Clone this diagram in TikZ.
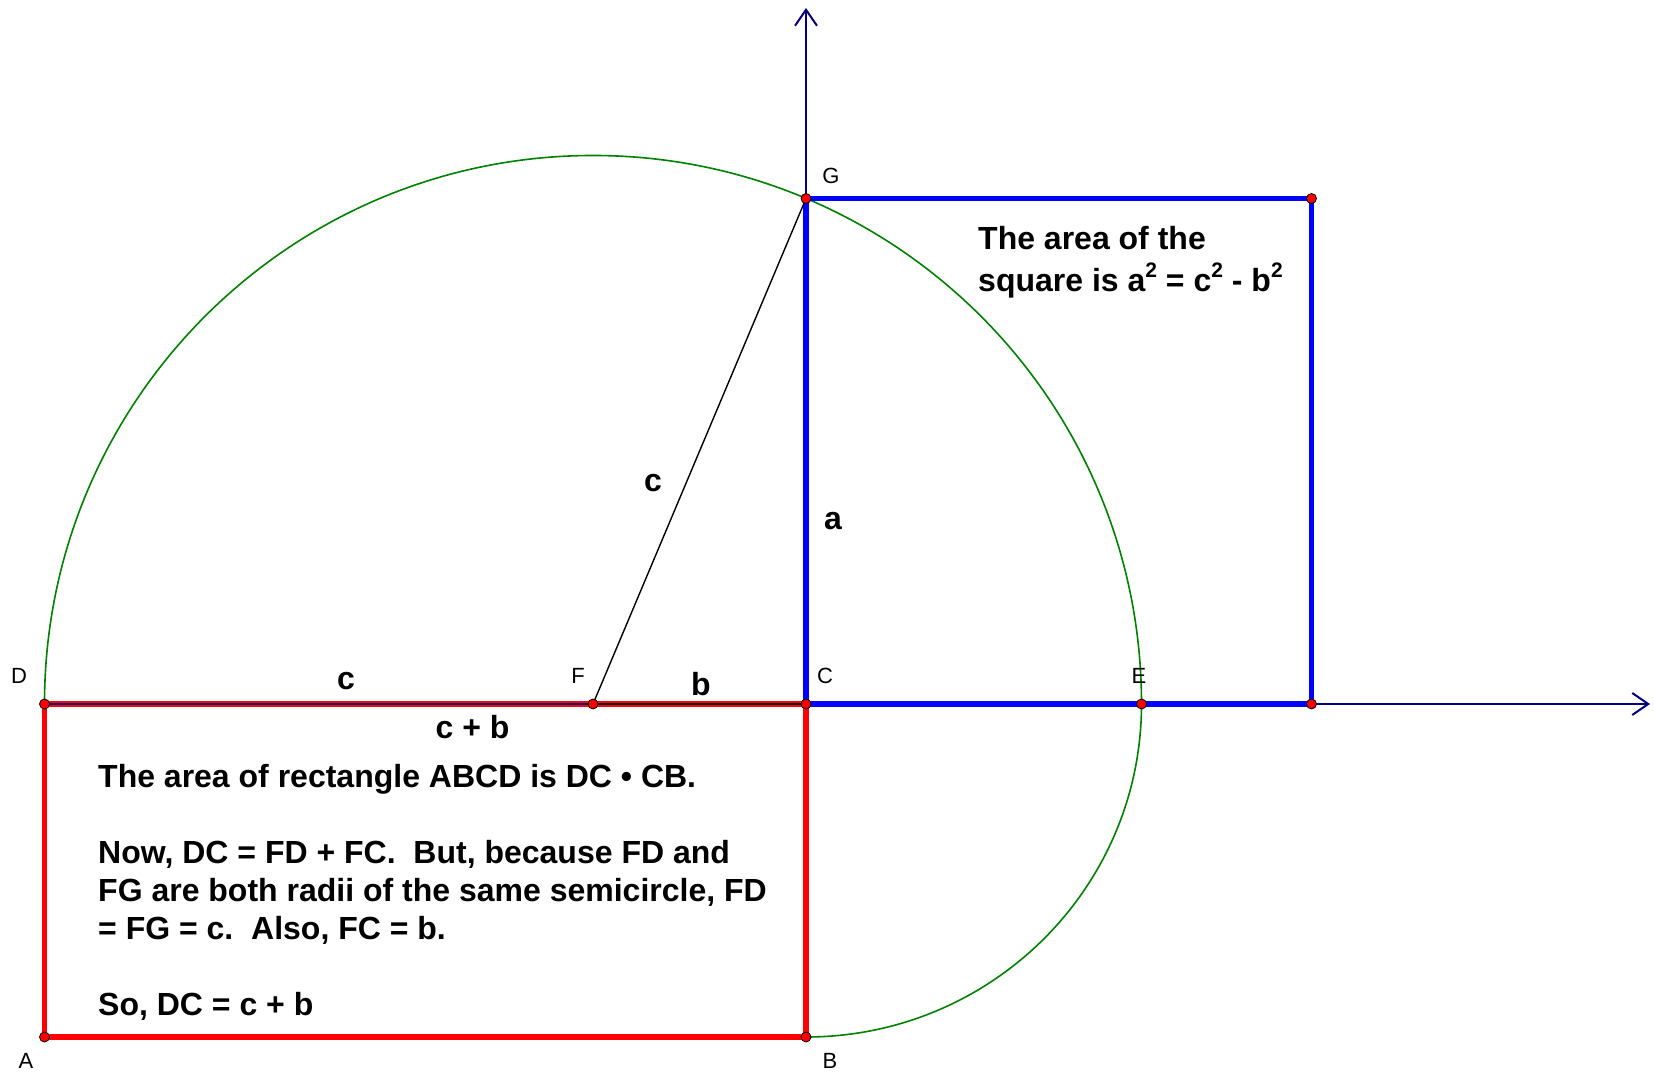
\documentclass[tikz,border=0pt]{standalone}
\usepackage{fontspec}
\setmainfont{Liberation Sans}
\usetikzlibrary{arrows.meta}
\definecolor{axisnavy}{HTML}{000080}
\definecolor{bowgreen}{HTML}{008000}
\newcommand{\sqr}{\raisebox{0.42em}{\fontsize{21}{21}\selectfont 2}}

\begin{document}
\begin{tikzpicture}[x=1pt,y=1pt,
  pt/.style={circle,fill=red,draw=black,line width=0.8pt,inner sep=0pt,minimum size=10pt},
  ptlabel/.style={font=\fontsize{22}{26}\selectfont,inner sep=0pt},
  side/.style={font=\fontsize{32}{38}\selectfont\bfseries,inner sep=0pt},
  note/.style={font=\fontsize{32}{38}\selectfont\bfseries,align=left,
    anchor=north west,inner sep=0pt},
  axis/.style={axisnavy,line width=2pt,
    -{Straight Barb[length=16pt,width=22pt,line width=2pt]}},
  rim/.style={red,line width=5.5pt,line join=miter},
  sq/.style={blue,line width=5.5pt,line join=miter},
  bow/.style={bowgreen,line width=1.6pt}
]
\useasboundingbox (0,0) rectangle (1654,1074);
% points of the construction
\coordinate (D) at (44.5,370);
\coordinate (F) at (593,370);
\coordinate (C) at (806,370);
\coordinate (E) at (1141.5,370);
\coordinate (G) at (806,875.5);
\coordinate (H) at (1311.5,875.5);
\coordinate (K) at (1311.5,370);
\coordinate (A) at (44.5,37);
\coordinate (B) at (806,37);
\coordinate (up) at (806,1066);
\coordinate (right) at (1650,370);
% axes
\draw[axis] (C) -- (up);
\draw[axis] (C) -- (right);
% semicircle about F and quarter circle about C
\draw[bow] (D) arc[start angle=180,end angle=0,radius=548.5];
\draw[bow] (E) arc[start angle=0,end angle=-90,x radius=335.5,y radius=333];
% rectangle ABCD and the square on CG
\draw[rim] (D) -- (C) -- (B) -- (A) -- cycle;
\draw[sq] (C) -- (G) -- (H) -- (K) -- cycle;
\draw[axisnavy,line width=1.2pt] (D) -- (F);
\draw[black,line width=1.8pt] (F) -- (C);
\draw[black,line width=1.4pt] (F) -- (G);
\foreach \p in {D,F,C,E,G,H,K,A,B}
  \node[pt] (dot\p) at (\p) {};
% point names
\node[ptlabel] (labD) at (19,398) {D};
\node[ptlabel] (labF) at (578,398) {F};
\node[ptlabel] (labC) at (825,398) {C};
\node[ptlabel] (labE) at (1139,398) {E};
\node[ptlabel] (labG) at (831,898) {G};
\node[ptlabel] (labA) at (26,13) {A};
\node[ptlabel] (labB) at (830,13) {B};
% side lengths
\node[side] (sideFG) at (653,591) {c};
\node[side] (sideCG) at (833,553) {a};
\node[side] (sideDF) at (346,393) {c};
\node[side] (sideFC) at (701,389.5) {b};
\node[side] (sideDC) at (472.5,347) {c + b};
% explanations
\node[note,font=\fontsize{32}{41.5}\selectfont\bfseries] (sqtext) at (978,847.5)
  {The area of the\\
   square is a\sqr{} = c\sqr{} - b\sqr};
\node[note] (recttext) at (98,309.5)
  {The area of rectangle ABCD is DC \textbullet\ CB.\\[38pt]
   Now, DC = FD + FC.\ \ But, because FD and\\
   FG are both radii of the same semicircle, FD\\
   = FG = c.\ \ Also, FC = b.\\[38pt]
   So, DC = c + b};
\end{tikzpicture}
\end{document}
